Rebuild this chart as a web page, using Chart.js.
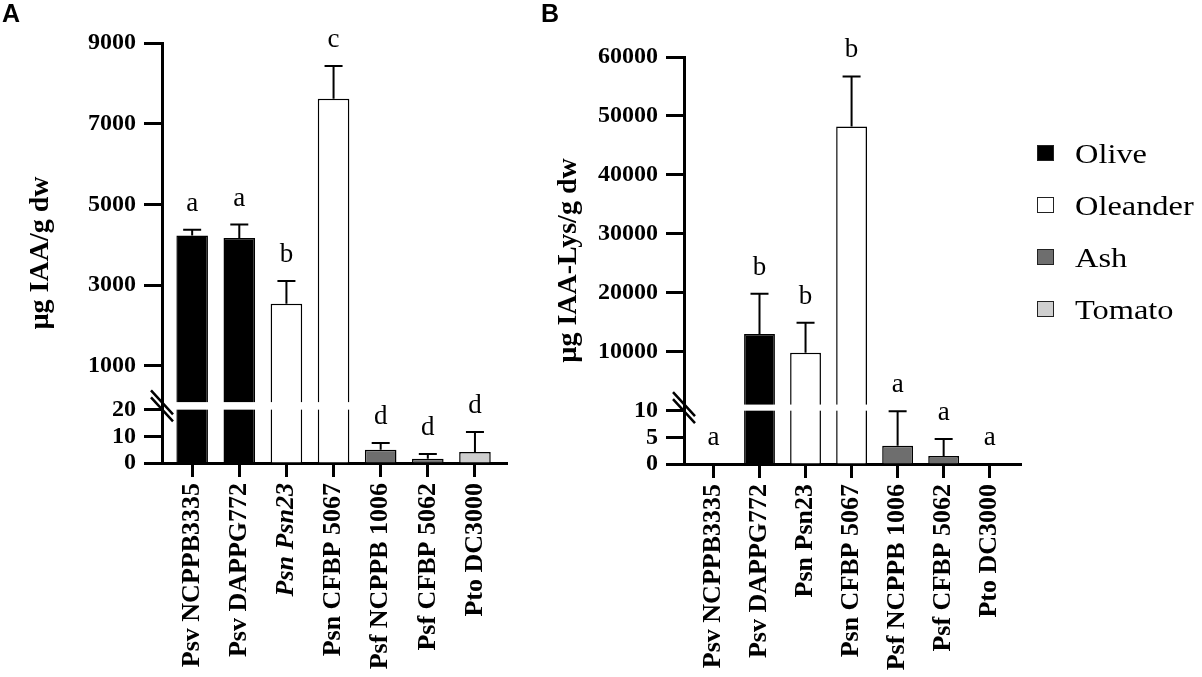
<!DOCTYPE html>
<html>
<head>
<meta charset="utf-8">
<script src="https://cdn.jsdelivr.net/npm/chart.js@4.4.0/dist/chart.umd.min.js"></script>
<style>
html, body { margin: 0; padding: 0; background: #fff; }
#wrap { position: relative; width: 1202px; height: 677px; overflow: hidden; }
#cA { position: absolute; left: 0; top: 0; }
#cB { position: absolute; left: 540px; top: 0; }
.panel { position: absolute; top: 1px; font: bold 25px "Liberation Sans", Arial, sans-serif; line-height: 25px; }
.lbox { position: absolute; width: 17px; height: 16px; box-sizing: border-box; border: 1.5px solid #222; }
.ltxt { position: absolute; font: 27px "Liberation Serif", "Times New Roman", serif; line-height: 27px;
        transform: scaleX(1.2); transform-origin: left center; white-space: nowrap; }
</style>
</head>
<body>
<div id="wrap">
  <canvas id="cA" width="540" height="677"></canvas>
  <canvas id="cB" width="662" height="677"></canvas>
  <div class="panel" style="left:2px">A</div>
  <div class="panel" style="left:541px">B</div>
  <div id="legend"></div>
</div>
<script>
// strains on the x axis and their host plant
var strains = ['Psv NCPPB3335', 'Psv DAPPG772', 'Psn Psn23', 'Psn CFBP 5067', 'Psf NCPPB 1006', 'Psf CFBP 5062', 'Pto DC3000'];
var hosts = ['Olive', 'Olive', 'Oleander', 'Oleander', 'Ash', 'Ash', 'Tomato'];
var hostNames = ['Olive', 'Oleander', 'Ash', 'Tomato'];
var hostColors = ['#000000', '#ffffff', '#6e6e6e', '#cfcfcf'];

// panel A: IAA
var iaaMean = [4230, 4170, 2540, 7620, 5.0, 1.6, 4.1];
var iaaSd = [140, 330, 560, 810, 2.5, 1.8, 7.5];
var iaaLetters = ['a', 'a', 'b', 'c', 'd', 'd', 'd'];
var iaaTicks = [0, 10, 20, 1000, 3000, 5000, 7000, 9000];

// panel B: IAA-Lys
var lysMean = [0, 13000, 9780, 48200, 3.4, 1.5, 0];
var lysSd = [0, 6800, 5100, 8500, 6.5, 3.2, 0];
var lysLetters = ['a', 'b', 'b', 'b', 'a', 'a', 'a'];
var lysTicks = [0, 5, 10, 10000, 20000, 30000, 40000, 50000, 60000];

var serif = '"Liberation Serif", "Times New Roman", serif';

// linear axis with a break: [0, brkLow] at the bottom, [brkUp, max] on top
class BrokenScale extends Chart.LinearScale {
  segs() {
    var o = this.options;
    var h = this.bottom - this.top;
    var lowH = h * o.lowFrac, gapH = h * o.gapFrac;
    return {lowH: lowH, gapH: gapH, upH: h - lowH - gapH, lo: o.brkLow, up: o.brkUp};
  }
  getPixelForValue(v) {
    var s = this.segs(), b = this.bottom;
    if (v <= s.lo) return b - v / s.lo * s.lowH;
    if (v < s.up) return b - s.lowH - (v - s.lo) / (s.up - s.lo) * s.gapH;
    return b - s.lowH - s.gapH - (v - s.up) / (this.max - s.up) * s.upH;
  }
  getValueForPixel(p) {
    var s = this.segs(), d = this.bottom - p;
    if (d <= s.lowH) return d / s.lowH * s.lo;
    if (d <= s.lowH + s.gapH) return s.lo + (d - s.lowH) / s.gapH * (s.up - s.lo);
    return s.up + (d - s.lowH - s.gapH) / s.upH * (this.max - s.up);
  }
}
BrokenScale.id = 'broken';
BrokenScale.defaults = {};
Chart.register(BrokenScale);

function makeExtras(mean, sd, letters) {
  return {
    id: 'extras',
    afterDatasetsDraw: function (chart) {
      var ctx = chart.ctx, xs = chart.scales.x, ys = chart.scales.y, ca = chart.chartArea;
      var yLow = ys.getPixelForValue(ys.options.brkLow);
      var yUp = ys.getPixelForValue(ys.options.brkUp);
      ctx.save();
      // cut the bars where the axis is broken
      ctx.fillStyle = '#fff';
      ctx.fillRect(ca.left + 2, yUp, ca.right - ca.left, yLow - yUp);
      // error bars (upper side only)
      ctx.strokeStyle = '#000';
      ctx.lineWidth = 2;
      for (var i = 0; i < mean.length; i++) {
        if (!sd[i]) continue;
        var x = xs.getPixelForValue(i);
        var y0 = ys.getPixelForValue(mean[i]);
        var y1 = ys.getPixelForValue(mean[i] + sd[i]);
        ctx.beginPath();
        ctx.moveTo(x, y0); ctx.lineTo(x, y1);
        ctx.moveTo(x - 9, y1); ctx.lineTo(x + 9, y1);
        ctx.stroke();
      }
      // significance letters
      ctx.fillStyle = '#000';
      ctx.font = '27px ' + serif;
      ctx.textAlign = 'center';
      ctx.textBaseline = 'alphabetic';
      for (i = 0; i < letters.length; i++) {
        var top = ys.getPixelForValue(mean[i] + sd[i]);
        ctx.fillText(letters[i], xs.getPixelForValue(i), top - 19);
      }
      // break marks on the y axis
      var cx = ca.left, cy = (yLow + yUp) / 2, d = 3.5;
      ctx.lineWidth = 2.5;
      ctx.beginPath();
      ctx.moveTo(cx - 11, cy - 12 - d); ctx.lineTo(cx + 11, cy + 12 - d);
      ctx.moveTo(cx - 11, cy - 12 + d); ctx.lineTo(cx + 11, cy + 12 + d);
      ctx.stroke();
      ctx.restore();
    }
  };
}

function makeChart(id, mean, sd, letters, yTicks, cfg) {
  var colors = hosts.map(function (h) { return hostColors[hostNames.indexOf(h)]; });
  return new Chart(document.getElementById(id), {
    type: 'bar',
    data: {
      datasets: [{
        data: mean.map(function (v, i) { return {x: i, y: v}; }),
        backgroundColor: colors,
        borderColor: '#000',
        borderWidth: 1.5,
        barPercentage: 0.67,
        categoryPercentage: 1
      }]
    },
    options: {
      responsive: false,
      animation: false,
      events: [],
      layout: { padding: cfg.padding },
      plugins: { legend: { display: false }, tooltip: { enabled: false } },
      scales: {
        x: {
          type: 'linear', min: -0.64, max: 6.68, offset: false,
          afterBuildTicks: function (s) { s.ticks = strains.map(function (n, i) { return {value: i}; }); },
          afterFit: function (s) { s.height = cfg.xHeight; },
          ticks: {
            autoSkip: false, maxRotation: 90, minRotation: 90, padding: 6, color: '#000',
            callback: function (v) { return strains[v]; },
            font: function (c) {
              return {family: serif, size: 26, weight: 'bold', style: c.index === cfg.italicIdx ? 'italic' : 'normal'};
            }
          },
          grid: { drawOnChartArea: false, offset: false, tickLength: 14, tickWidth: 3, tickColor: '#000' },
          border: { width: 3, color: '#000' }
        },
        y: {
          type: 'broken', min: 0, max: cfg.max,
          brkLow: cfg.brkLow, brkUp: cfg.brkUp, lowFrac: cfg.lowFrac, gapFrac: cfg.gapFrac,
          afterBuildTicks: function (s) { s.ticks = yTicks.map(function (v) { return {value: v}; }); },
          afterFit: function (s) { s.width = cfg.yWidth; },
          ticks: {
            autoSkip: false, padding: 8, color: '#000',
            callback: function (v) { return String(v); },
            font: {family: serif, size: 24, weight: 'bold'}
          },
          grid: { drawOnChartArea: false, tickLength: 18, tickWidth: 3, tickColor: '#000' },
          border: { width: 3, color: '#000' },
          title: {
            display: true, text: cfg.title, color: '#000',
            font: {family: serif, size: 28, weight: 'bold'},
            padding: {top: cfg.titlePad, bottom: 0}
          }
        }
      }
    },
    plugins: [makeExtras(mean, sd, letters)]
  });
}

makeChart('cA', iaaMean, iaaSd, iaaLetters, iaaTicks, {
  padding: {top: 43, right: 33, bottom: 0, left: 0},
  xHeight: 214, yWidth: 162, max: 9000,
  brkLow: 20, brkUp: 100, lowFrac: 0.127, gapFrac: 0.018,
  title: 'µg IAA/g dw', titlePad: 24, italicIdx: 2
});

makeChart('cB', lysMean, lysSd, lysLetters, lysTicks, {
  padding: {top: 57, right: 181, bottom: 0, left: 0},
  xHeight: 213, yWidth: 144, max: 60000,
  brkLow: 10, brkUp: 1000, lowFrac: 0.131, gapFrac: 0.015,
  title: 'µg IAA-Lys/g dw', titlePad: 12, italicIdx: -1
});

// legend for host plants
var lg = document.getElementById('legend');
hostNames.forEach(function (name, i) {
  var cy = 153 + 52 * i;
  var b = document.createElement('div');
  b.className = 'lbox';
  b.style.left = '1037px';
  b.style.top = (cy - 8) + 'px';
  b.style.background = hostColors[i];
  var t = document.createElement('div');
  t.className = 'ltxt';
  t.style.left = '1075px';
  t.style.top = (cy - 12) + 'px';
  t.textContent = name;
  lg.appendChild(b);
  lg.appendChild(t);
});
</script>
</body>
</html>
